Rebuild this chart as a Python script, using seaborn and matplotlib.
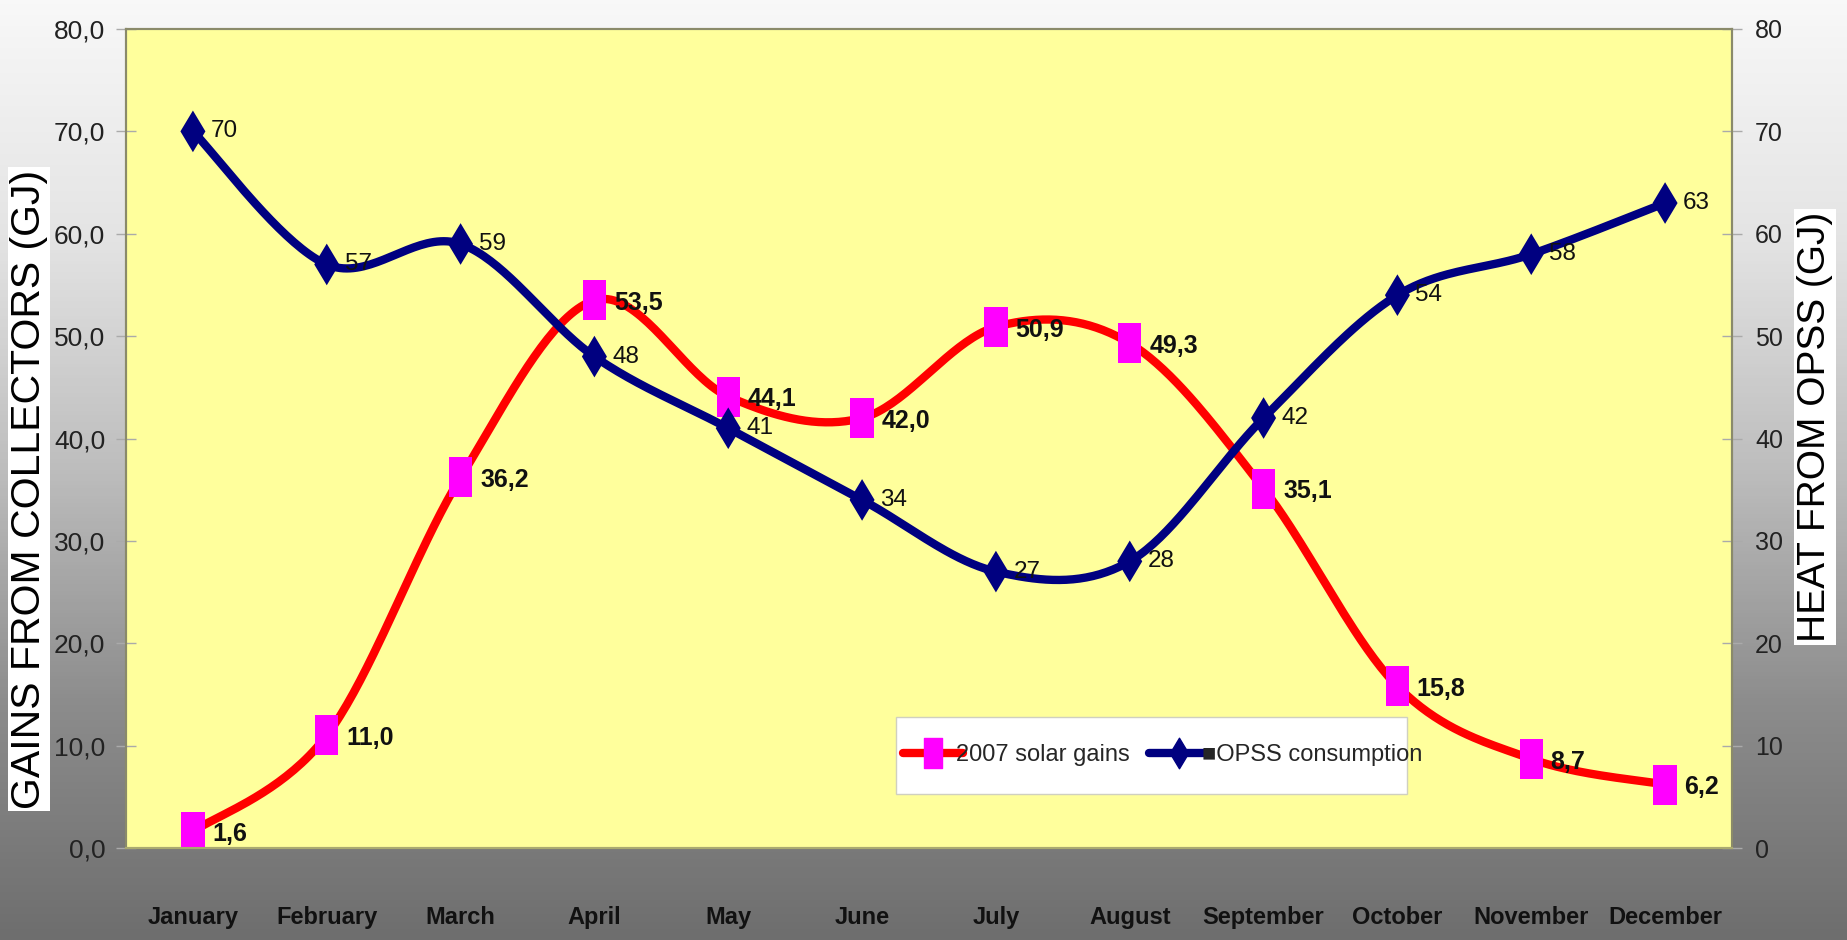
import numpy as np
import pandas as pd
import matplotlib
matplotlib.use("Agg")
import matplotlib.pyplot as plt
import seaborn as sns
from matplotlib.path import Path
from matplotlib.lines import Line2D
from matplotlib.patches import Rectangle
from matplotlib.colors import LinearSegmentedColormap

months = ["January", "February", "March", "April", "May", "June", "July",
          "August", "September", "October", "November", "December"]
solar_gains = [1.6, 11.0, 36.2, 53.5, 44.1, 42.0, 50.9, 49.3, 35.1, 15.8, 8.7, 6.2]
opss_consumption = [70, 57, 59, 48, 41, 34, 27, 28, 42, 54, 58, 63]
left_ticks = [0, 10, 20, 30, 40, 50, 60, 70, 80]
right_ticks = [0, 10, 20, 30, 40, 50, 60, 70, 80]

sns.set_style("white")
FAM = ["Liberation Sans", "DejaVu Sans"]
plt.rcParams["font.family"] = FAM


def smooth(xv, yv, n=40):
    """Excel-like smoothed line (Catmull-Rom Bezier) through the data points."""
    P = np.column_stack([xv, yv]).astype(float)
    out = []
    m = len(P)
    for i in range(m - 1):
        p0 = P[i - 1] if i > 0 else P[i]
        p1 = P[i]
        p2 = P[i + 1]
        p3 = P[i + 2] if i + 2 < m else P[i + 1]
        c1 = p1 + (p2 - p0) / 6.0
        c2 = p2 - (p3 - p1) / 6.0
        t = np.linspace(0, 1, n, endpoint=(i == m - 2))[:, None]
        seg = ((1 - t) ** 3) * p1 + 3 * ((1 - t) ** 2) * t * c1 + 3 * (1 - t) * t ** 2 * c2 + t ** 3 * p2
        out.append(seg)
    s = np.vstack(out)
    return s[:, 0], s[:, 1]


W, H = 1847, 940
fig = plt.figure(figsize=(W / 100, H / 100), dpi=100)

# background gradient
bg = fig.add_axes([0, 0, 1, 1], zorder=-10)
grad = np.linspace(0, 1, 256)[:, None]
cmap = LinearSegmentedColormap.from_list("g", ["#f8f8f8", "#e4e4e4", "#bdbdbd", "#8c8c8c", "#6e6e6e"])
bg.imshow(grad, aspect="auto", cmap=cmap, extent=[0, 1, 0, 1])
bg.set_axis_off()

ax = fig.add_axes([126 / W, 1 - 848 / H, 1606 / W, 819 / H])
ax.set_facecolor("#ffff9c")
ax2 = ax.twinx()

x = np.arange(len(months))

rect = Path([(-0.29, -0.5), (0.29, -0.5), (0.29, 0.5), (-0.29, 0.5), (-0.29, -0.5)],
            [Path.MOVETO, Path.LINETO, Path.LINETO, Path.LINETO, Path.CLOSEPOLY])
diam = Path([(0, -0.5), (0.3, 0), (0, 0.5), (-0.3, 0), (0, -0.5)],
            [Path.MOVETO, Path.LINETO, Path.LINETO, Path.LINETO, Path.CLOSEPOLY])

red = "#ff0000"
mag = "#ff00ff"
navy = "#000080"

sx, sy = smooth(x, solar_gains)
sns.lineplot(x=sx, y=sy, sort=False, ax=ax, color=red, linewidth=6.0, zorder=3)
sns.scatterplot(x=x, y=solar_gains, ax=ax, marker=rect, s=830, color=mag,
                edgecolor="none", linewidth=0, zorder=4)

bx, by = smooth(x, opss_consumption)
sns.lineplot(x=bx, y=by, sort=False, ax=ax2, color=navy, linewidth=6.0, zorder=3)
sns.scatterplot(x=x, y=opss_consumption, ax=ax2, marker=diam, s=900, color=navy,
                edgecolor="none", linewidth=0, zorder=4)

for xi, v in zip(x, solar_gains):
    ax.annotate(f"{v:.1f}".replace(".", ","), (xi, v), xytext=(14, -2), textcoords="offset points",
                ha="left", va="center", fontsize=18, fontweight="bold",
                color="#111111", zorder=6)
for xi, v in zip(x, opss_consumption):
    ax2.annotate(f"{v}", (xi, v), xytext=(13, 0), textcoords="offset points",
                 ha="left", va="center", fontsize=17.5,
                 color="#111111", zorder=6)

for a in (ax, ax2):
    a.set_xlim(-0.5, len(months) - 0.5)
    a.set_ylim(0, 80)
    a.set_xlabel("")
    a.set_ylabel("")

ax.set_yticks(left_ticks)
ax.set_yticklabels([f"{t:.1f}".replace(".", ",") for t in left_ticks], fontsize=19, color="#222222")
ax2.set_yticks(right_ticks)
ax2.set_yticklabels([str(t) for t in right_ticks], fontsize=18, color="#222222")

ax.set_xticks(x)
ax.set_xticklabels(months, fontsize=17, fontweight="bold", color="#111111")
ax.set_xticks(np.arange(-0.5, len(months), 1.0), minor=True)
ax.tick_params(axis="x", which="major", length=0, pad=42)
ax.tick_params(axis="x", which="minor", length=24, width=1, color="#999999", direction="inout")
ax.tick_params(axis="y", which="major", length=14, width=1, color="#aaaaaa", direction="inout", pad=8)
ax2.tick_params(axis="y", which="major", length=14, width=1, color="#aaaaaa", direction="inout", pad=9.5)
ax2.tick_params(axis="x", length=0)

for a in (ax, ax2):
    for s in a.spines.values():
        s.set_color("#8a8a6a")
        s.set_linewidth(1.5)
    a.spines["bottom"].set_color("#aaaa70")

# legend: white box behind, entries on top
ax2.add_patch(Rectangle((0.4795, 0.066), 0.318, 0.094, transform=ax2.transAxes,
                        facecolor="white", edgecolor="#d0d0c0", linewidth=1.0, zorder=6))
h1 = Line2D([], [], color=red, linewidth=6.0, marker=rect, markersize=22,
            markerfacecolor=mag, markeredgecolor=mag)
h2 = Line2D([], [], color=navy, linewidth=6.0, marker=diam, markersize=22,
            markerfacecolor=navy, markeredgecolor=navy)
leg = ax2.legend([h1, h2], ["2007 solar gains", "\u25a0OPSS consumption"], loc="center left",
                 bbox_to_anchor=(0.4795, 0.113), ncol=2, frameon=False,
                 handlelength=2.55, handletextpad=-0.3, columnspacing=0.8,
                 borderpad=0.3, borderaxespad=0, prop={"size": 17})
leg.set_zorder(7)

# axis labels in white boxes
fig.text(29 / W, 1 - 489 / H, "GAINS FROM COLLECTORS (GJ)", rotation=90, ha="center", va="center",
         fontsize=29.5, color="#000000", bbox=dict(facecolor="white", edgecolor="none", pad=1.5))
fig.text(1815 / W, 1 - 427 / H, "HEAT FROM OPSS (GJ)", rotation=90, ha="center", va="center",
         fontsize=28, color="#000000", bbox=dict(facecolor="white", edgecolor="none", pad=2))

fig.savefig("out.png", dpi=100)
